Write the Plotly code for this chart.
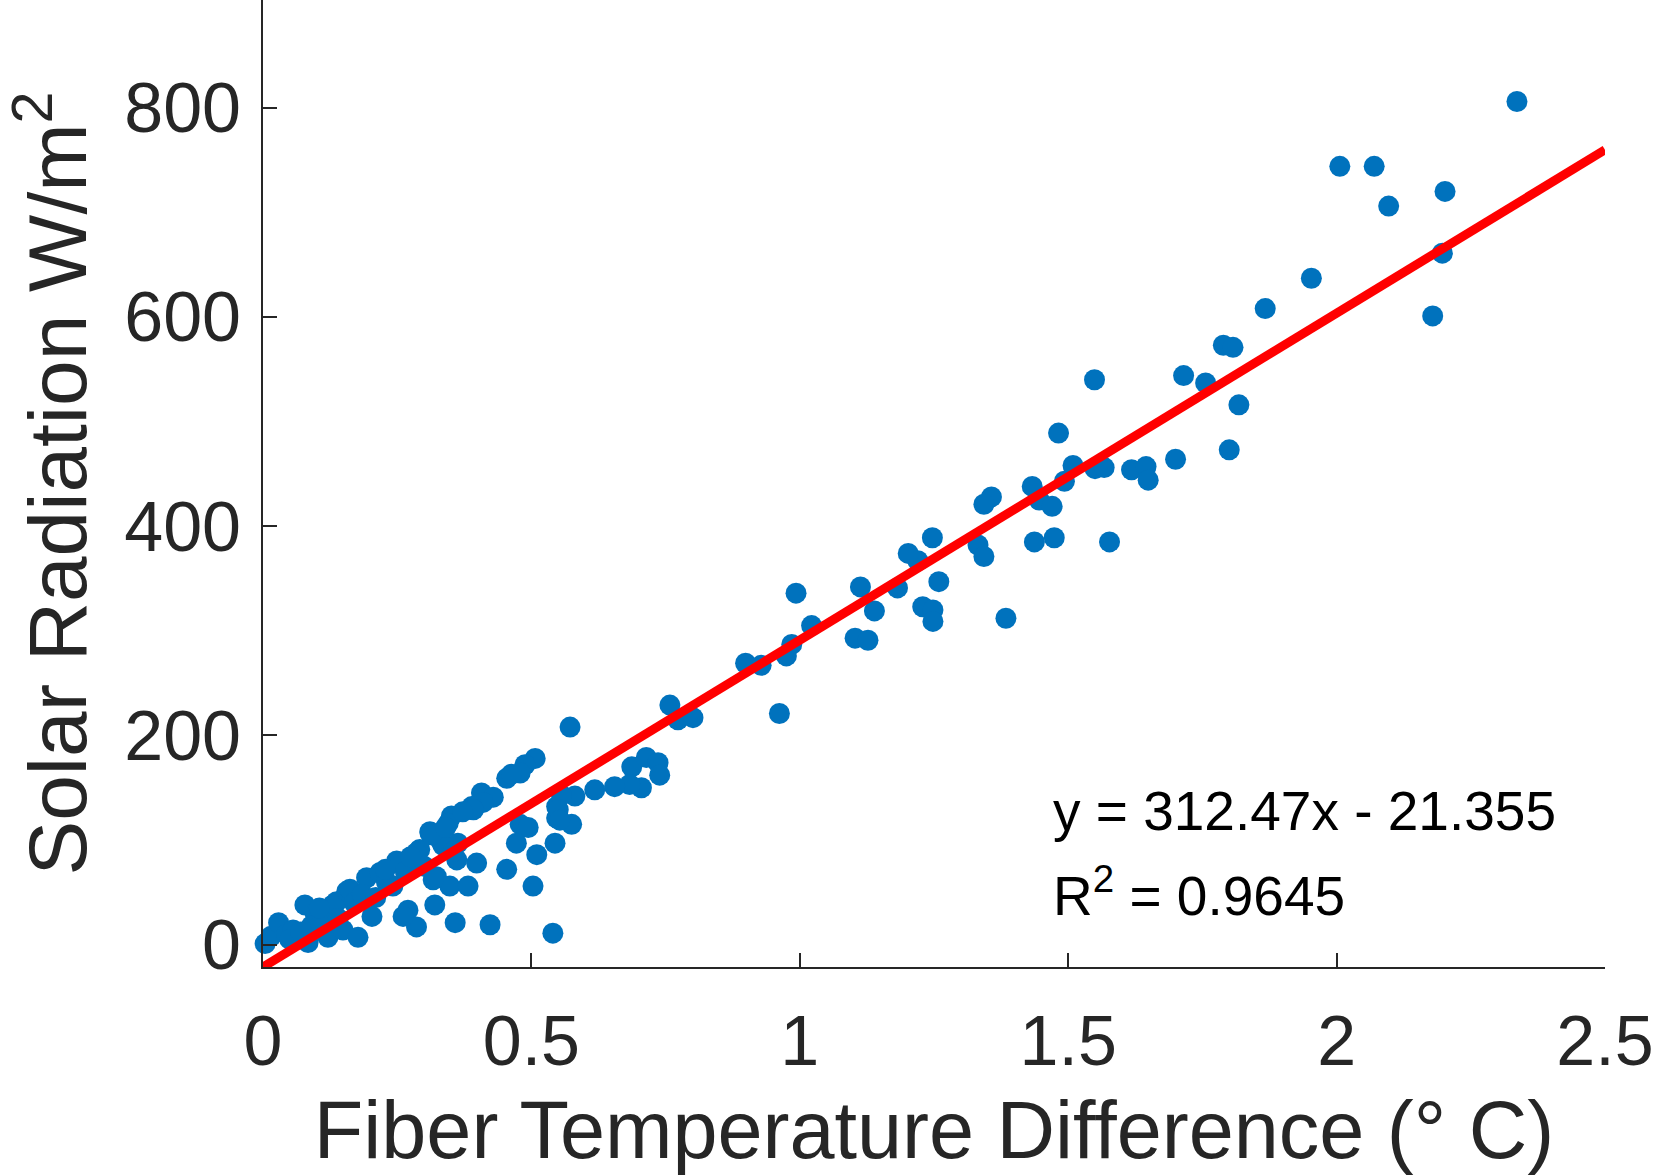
import plotly.graph_objects as go

# ---- data ----
temp_diff = [
    2.336, 2.006, 2.070, 2.097, 2.202, 2.197, 2.179, 1.953, 1.867, 1.789,
    1.807, 1.715, 1.756, 1.818, 1.800, 1.549, 1.482, 1.700, 1.618, 1.645,
    1.649, 1.509, 1.550, 1.567, 1.493, 1.433, 1.446, 1.470, 1.357, 1.343,
    1.437, 1.474, 1.577, 1.384, 1.332, 1.343, 1.247, 1.220, 1.202, 1.259,
    1.182, 1.113, 1.139, 1.103, 1.127, 1.229, 1.248, 1.248, 1.022, 0.993,
    0.985, 0.975, 0.962, 0.899, 0.928, 0.758, 0.773, 0.801, 0.687, 0.714,
    0.736, 0.739, 0.705, 0.683, 0.655, 0.618, 0.581, 0.575, 0.572, 0.547,
    0.547, 0.544, 0.556, 0.550, 0.553, 0.507, 0.488, 0.479, 0.454, 0.463,
    0.407, 0.429, 0.410, 0.389, 0.351, 0.345, 0.311, 0.330, 0.292, 0.270,
    0.363, 0.398, 0.361, 0.323, 0.348, 0.382, 0.454, 0.503, 0.479, 0.494,
    0.472, 0.510, 0.320, 0.270, 0.286, 0.358, 0.423, 0.540, 0.004, 0.015,
    0.029, 0.044, 0.056, 0.050, 0.078, 0.084, 0.097, 0.090, 0.070, 0.108,
    0.130, 0.121, 0.125, 0.137, 0.149, 0.156, 0.162, 0.177, 0.170, 0.193,
    0.203, 0.185, 0.218, 0.230, 0.242, 0.249, 0.261, 0.286, 0.311, 0.317,
    0.335, 0.300, 0.265, 0.210, 0.140, 0.105, 0.392, 0.354, 0.314, 0.372,
    0.340, 0.228, 0.275,
]
solar_rad = [
    806, 744, 744, 706, 720, 661, 601, 637, 608, 573,
    571, 544, 537, 516, 473, 540, 489, 464, 454, 457,
    444, 458, 455, 456, 443, 438, 425, 419, 428, 421,
    385, 389, 385, 312, 382, 371, 389, 367, 374, 347,
    341, 342, 319, 293, 291, 323, 320, 309, 305, 336,
    287, 276, 221, 269, 267, 229, 215, 217, 170, 179,
    174, 162, 150, 153, 151, 148, 142, 115, 208, 132,
    121, 97, 143, 129, 119, 178, 172, 164, 159, 163,
    145, 141, 136, 132, 123, 116, 108, 100, 91, 81,
    97, 78, 81, 65, 56, 56, 72, 56, 115, 112,
    97, 86, 38, 33, 17, 21, 19, 11, 1, 8,
    21, 10, 14, 5, 38, 2, 30, 18, 12, 20,
    38, 7, 28, 41, 14, 51, 53, 7, 40, 64,
    27, 48, 69, 60, 56, 80, 27, 88, 107, 62,
    95, 75, 70, 45, 25, 35, 129, 89, 105, 127,
    112, 72, 84,
]
fit_slope = 312.47
fit_intercept = -21.355
fit_x = [0.0, 2.5]
fit_y = [fit_slope * v + fit_intercept for v in fit_x]

x_ticks = [0, 0.5, 1, 1.5, 2, 2.5]
x_tick_labels = ["0", "0.5", "1", "1.5", "2", "2.5"]
y_ticks = [0, 200, 400, 600, 800]
y_tick_labels = ["0", "200", "400", "600", "800"]

eq_text = "y = 312.47x - 21.355"
r2_text = "R<sup>2</sup> = 0.9645"

FONT = "Liberation Sans, Arial, Helvetica, sans-serif"
AX = "#262626"

fig = go.Figure()
fig.add_trace(go.Scatter(
    x=temp_diff, y=solar_rad, mode="markers",
    marker=dict(size=21, color="#0072BD", line=dict(width=0)),
    cliponaxis=False, showlegend=False,
))
fig.add_trace(go.Scatter(
    x=fit_x, y=fit_y, mode="lines",
    line=dict(color="#FF0000", width=9),
    cliponaxis=False, showlegend=False,
))

fig.add_annotation(x=1.468, y=128, xref="x", yref="y", text=eq_text,
                   showarrow=False, xanchor="left", yanchor="middle",
                   font=dict(family=FONT, size=55, color="#000000"))
fig.add_annotation(x=1.468, y=50, xref="x", yref="y", text=r2_text,
                   showarrow=False, xanchor="left", yanchor="middle",
                   font=dict(family=FONT, size=55, color="#000000"))

fig.update_layout(
    width=1656, height=1176,
    margin=dict(l=263, r=51, t=0, b=209, autoexpand=False),
    paper_bgcolor="white", plot_bgcolor="white",
    font=dict(family=FONT, color=AX),
)
fig.update_xaxes(
    range=[0, 2.5], tickmode="array", tickvals=x_ticks, ticktext=x_tick_labels,
    ticks="inside", ticklen=14, tickwidth=2, tickcolor=AX,
    showline=True, linecolor=AX, linewidth=2, showgrid=False, zeroline=False,
    tickfont=dict(size=70, family=FONT, color=AX), ticklabelstandoff=12,
    title=dict(text="Fiber Temperature Difference (° C)",
               font=dict(size=81, family=FONT, color=AX), standoff=22),
    automargin=False,
)
fig.update_yaxes(
    range=[-21.355, 903], tickmode="array", tickvals=y_ticks, ticktext=y_tick_labels,
    ticks="inside", ticklen=14, tickwidth=2, tickcolor=AX,
    showline=True, linecolor=AX, linewidth=2, showgrid=False, zeroline=False,
    tickfont=dict(size=70, family=FONT, color=AX), ticklabelstandoff=6,
    title=dict(text="Solar Radiation W/m<sup>2</sup>",
               font=dict(size=82, family=FONT, color=AX), standoff=12),
    automargin=False,
)

fig.write_html("out.html")
